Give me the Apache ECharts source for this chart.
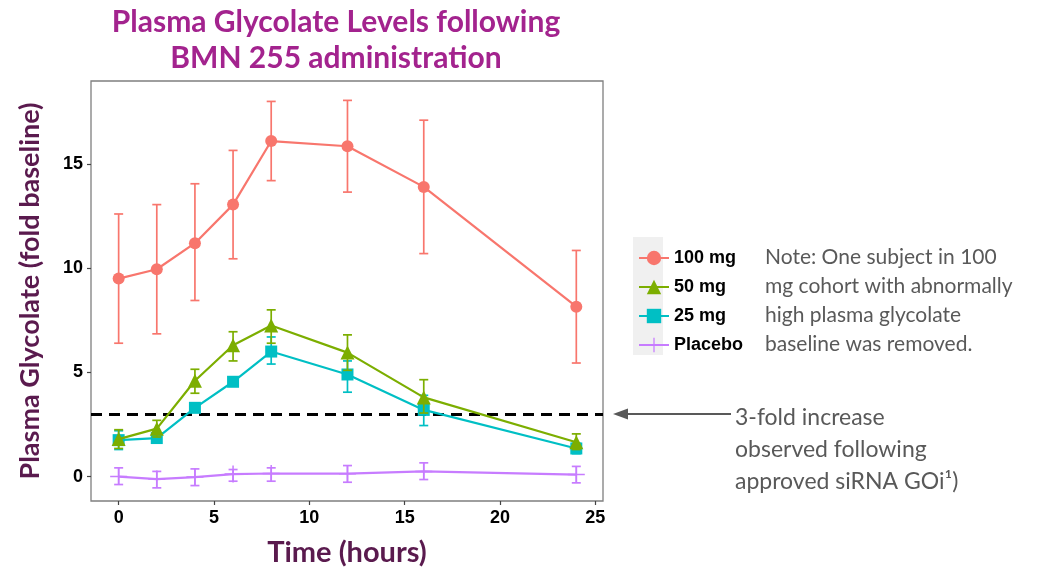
<!DOCTYPE html>
<html>
<head>
<meta charset="utf-8">
<script src="https://cdn.jsdelivr.net/npm/echarts@6/dist/echarts.min.js"></script>
<style>
html,body{margin:0;padding:0;background:#fff;}
#chart{width:1038px;height:569px;}
</style>
</head>
<body>
<div id="chart"></div>
<script>
// ---- data ----
const times = [0, 2, 4, 6, 8, 12, 16, 24];
const seriesNames = ['100 mg', '50 mg', '25 mg', 'Placebo'];
const mg100 = [9.5, 9.95, 11.2, 13.05, 16.1, 15.85, 13.9, 8.15];
const mg100Lo = [6.4, 6.85, 8.45, 10.45, 14.2, 13.65, 10.7, 5.45];
const mg100Hi = [12.6, 13.05, 14.05, 15.65, 18.0, 18.05, 17.1, 10.85];
const mg50 = [1.8, 2.3, 4.6, 6.3, 7.25, 5.95, 3.8, 1.65];
const mg50Lo = [1.35, 1.9, 4.0, 5.55, 6.4, 5.1, 3.05, 1.3];
const mg50Hi = [2.25, 2.7, 5.15, 6.95, 8.0, 6.8, 4.65, 2.05];
const mg25 = [1.75, 1.85, 3.3, 4.55, 6.0, 4.9, 3.2, 1.35];
const mg25Lo = [1.3, 1.65, 3.15, 4.4, 5.4, 4.05, 2.45, 1.1];
const mg25Hi = [2.2, 2.05, 3.45, 4.7, 6.7, 5.55, 3.9, 1.6];
const placebo = [0.0, -0.12, -0.02, 0.12, 0.15, 0.14, 0.25, 0.1];
const placeboLo = [-0.38, -0.54, -0.43, -0.22, -0.22, -0.27, -0.14, -0.3];
const placeboHi = [0.42, 0.25, 0.37, 0.34, 0.42, 0.53, 0.66, 0.49];
const thresholdValue = 3;
const xTicks = [0, 5, 10, 15, 20, 25];
const yTicks = [0, 5, 10, 15];
const titleLines = ['Plasma Glycolate Levels following', 'BMN 255 administration'];
const noteLines = ['Note: One subject in 100', 'mg cohort with abnormally', 'high plasma glycolate', 'baseline was removed.'];
const arrowLines = ['3-fold increase', 'observed following', 'approved siRNA GOi\u00b9)'];

const colors = {'100 mg':'#F8766D','50 mg':'#7CAE00','25 mg':'#00BFC4','Placebo':'#C77CFF'};
const plusPath = 'path://M7.3,0H8.7V7.3H16V8.7H8.7V16H7.3V8.7H0V7.3H7.3Z';

function pairs(ys){ return times.map((t,i)=>[t, ys[i]]); }
function errData(lo, hi){ return times.map((t,i)=>[t, lo[i], hi[i]]); }

function errSeries(lo, hi, color, z){
  return {
    type:'custom', silent:true, z:z,
    data: errData(lo, hi),
    encode:{x:0, y:[1,2]},
    renderItem: function(params, api){
      const x = api.value(0);
      const a = api.coord([x, api.value(1)]);
      const b = api.coord([x, api.value(2)]);
      const w = 4.5;
      const st = {stroke: color, lineWidth: 1.7, fill: null};
      return {type:'group', children:[
        {type:'line', shape:{x1:a[0], y1:a[1], x2:b[0], y2:b[1]}, style:st},
        {type:'line', shape:{x1:a[0]-w, y1:a[1], x2:a[0]+w, y2:a[1]}, style:st},
        {type:'line', shape:{x1:b[0]-w, y1:b[1], x2:b[0]+w, y2:b[1]}, style:st}
      ]};
    }
  };
}

function lineSeries(name, ys, symbol, size, z){
  return {
    name: name, type:'line', data: pairs(ys), z:z,
    symbol: symbol, symbolSize: size, showSymbol:true,
    itemStyle:{color: colors[name], opacity:1},
    lineStyle:{color: colors[name], width:2.2},
    emphasis:{disabled:true}
  };
}

const s100 = lineSeries('100 mg', mg100, 'circle', 12, 10);
s100.markLine = {
  silent:true, symbol:['none','none'], animation:false,
  label:{show:false},
  lineStyle:{color:'#000', type:[11,7], width:2.8},
  data:[{yAxis: thresholdValue}]
};

const chart = echarts.init(document.getElementById('chart'), null, {renderer:'canvas'});
const tickFont = {fontFamily:'"Liberation Sans", Arial, sans-serif', fontWeight:'bold', fontSize:18, color:'#000'};

chart.setOption({
  animation:false,
  backgroundColor:'#fff',
  grid:{left:91, top:81, width:512, height:420, show:true, borderColor:'#7f7f7f', borderWidth:1.3, backgroundColor:'#fff', containLabel:false, outerBoundsMode:'none'},
  xAxis:{
    type:'value', min:-1.45, max:25.4,
    name:'Time (hours)', nameLocation:'middle', nameGap:37,
    nameTextStyle:{fontFamily:'Lato, sans-serif', fontWeight:'bold', fontSize:29, color:'#5A1A4E'},
    axisLine:{show:false, onZero:false},
    axisTick:{show:true, customValues:xTicks, length:4, lineStyle:{color:'#444', width:1.2}},
    axisLabel:Object.assign({customValues:xTicks, margin:8}, tickFont),
    splitLine:{show:false}
  },
  yAxis:{
    type:'value', min:-1.17, max:18.98,
    name:'Plasma Glycolate (fold baseline)', nameLocation:'middle', nameGap:47,
    nameTextStyle:{fontFamily:'Lato, sans-serif', fontWeight:'bold', fontSize:27, color:'#5A1A4E'},
    axisLine:{show:false, onZero:false},
    axisTick:{show:true, customValues:yTicks, length:4, lineStyle:{color:'#444', width:1.2}},
    axisLabel:Object.assign({customValues:yTicks, margin:8}, tickFont),
    splitLine:{show:false}
  },
  legend:{
    data: seriesNames, orient:'vertical', left:633, top:244,
    itemWidth:30, itemHeight:18, itemGap:11,
    textStyle:{fontFamily:'"Liberation Sans", Arial, sans-serif', fontWeight:'bold', fontSize:18, color:'#000', lineHeight:18},
    selectedMode:false
  },
  graphic:[
    {type:'rect', left:633, top:237, shape:{width:30, height:118}, style:{fill:'#F0F0F0'}, z:-1, silent:true},
    {type:'text', x:336, y:4, style:{text:titleLines.join('\n'), font:'bold 30px Lato, sans-serif', fill:'#A3238E', align:'center', verticalAlign:'top', lineHeight:36}, silent:true},
    {type:'text', x:765, y:243, style:{text:noteLines.join('\n'), font:'21px Lato, sans-serif', fill:'#595959', lineHeight:29}, silent:true},
    {type:'text', x:735, y:402, style:{text:arrowLines.join('\n'), font:'23px Lato, sans-serif', fill:'#595959', lineHeight:32}, silent:true},
    {type:'line', shape:{x1:626, y1:414, x2:731, y2:414}, style:{stroke:'#595959', lineWidth:2}, silent:true},
    {type:'polygon', shape:{points:[[613,414],[628,408.5],[628,419.5]]}, style:{fill:'#595959'}, silent:true}
  ],
  series:[
    errSeries(placeboLo, placeboHi, colors['Placebo'], 2),
    lineSeries('Placebo', placebo, plusPath, 17, 3),
    errSeries(mg25Lo, mg25Hi, colors['25 mg'], 4),
    lineSeries('25 mg', mg25, 'rect', 12, 5),
    errSeries(mg50Lo, mg50Hi, colors['50 mg'], 6),
    lineSeries('50 mg', mg50, 'triangle', 14, 7),
    errSeries(mg100Lo, mg100Hi, colors['100 mg'], 8),
    s100
  ]
});
</script>
</body>
</html>
